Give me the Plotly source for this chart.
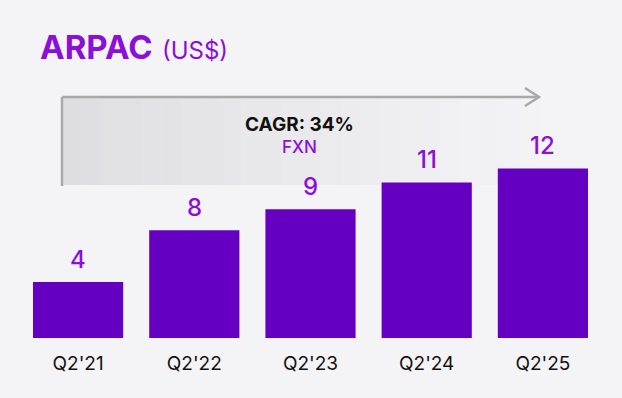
import plotly.graph_objects as go

categories = ["Q2'21", "Q2'22", "Q2'23", "Q2'24", "Q2'25"]
arpac_values = [4.0, 7.7, 9.2, 11.1, 12.1]
value_labels = ["4", "8", "9", "11", "12"]
cagr_text = "CAGR: 34%"
cagr_sub = "FXN"

W, H = 622, 398
ML, MR, MT, MB = 20, 21, 58, 60
PW, PH = W - ML - MR, H - MT - MB

def px(x):
    return (x - ML) / PW

def py(y):
    return (H - MB - y) / PH

PURPLE = "#8a10d8"
FONT = "Inter, Lato, DejaVu Sans, sans-serif"

fig = go.Figure()
fig.add_trace(go.Bar(
    x=categories, y=arpac_values,
    marker=dict(color="#6500c2", line=dict(width=0)),
    hoverinfo="skip",
))

annotations = []
for c, v, t in zip(categories, arpac_values, value_labels):
    annotations.append(dict(x=c, y=v, xref="x", yref="y", text=t, showarrow=False,
                            yanchor="middle", yshift=23,
                            font=dict(size=24, color=PURPLE, family=FONT, weight=500)))

shapes = []
x0, x1, yt, yb = 62, 540, 97, 185
n = 24
for i in range(n):
    a = 0.75 * (1 - i / n) ** 1.2
    sx0 = x0 + (x1 - x0) * i / n
    sx1 = x0 + (x1 - x0) * (i + 1) / n
    shapes.append(dict(type="rect", xref="paper", yref="paper",
                       x0=px(sx0), x1=px(sx1), y0=py(yb), y1=py(yt),
                       line=dict(width=0), fillcolor=f"rgba(215,215,218,{a:.3f})",
                       layer="below"))
LINE = dict(color="#a9a9a9", width=2.5)
shapes.append(dict(type="line", xref="paper", yref="paper",
                   x0=px(62), x1=px(538), y0=py(97), y1=py(97), line=LINE))
shapes.append(dict(type="line", xref="paper", yref="paper",
                   x0=px(62), x1=px(62), y0=py(97), y1=py(186), line=LINE))
shapes.append(dict(type="path", xref="paper", yref="paper",
                   path=f"M {px(525)},{py(88)} L {px(539)},{py(97)} L {px(525)},{py(106)}",
                   line=LINE))

annotations += [
    dict(text="<b>ARPAC</b> <span style='font-size:24px'>(US$)</span>",
         xref="paper", yref="paper", x=px(38), y=py(47), xanchor="left", yanchor="middle",
         showarrow=False, font=dict(size=33, color=PURPLE, family=FONT)),
    dict(text=f"<b>{cagr_text}</b>", xref="paper", yref="paper", x=px(299), y=py(124),
         xanchor="center", yanchor="middle", showarrow=False,
         font=dict(size=19, color="#111111", family=FONT)),
    dict(text=cagr_sub, xref="paper", yref="paper", x=px(299), y=py(147),
         xanchor="center", yanchor="middle", showarrow=False,
         font=dict(size=17, color=PURPLE, family=FONT, weight=500)),
]

fig.update_layout(
    width=W, height=H,
    margin=dict(l=ML, r=MR, t=MT, b=MB),
    paper_bgcolor="#f4f3f6", plot_bgcolor="rgba(0,0,0,0)",
    bargap=0.224, showlegend=False,
    shapes=shapes, annotations=annotations,
    xaxis=dict(showgrid=False, zeroline=False, showline=False,
               ticks="outside", ticklen=8, tickcolor="rgba(0,0,0,0)",
               tickfont=dict(size=19, color="#111111", family=FONT),
               range=[-0.5, 4.5]),
    yaxis=dict(visible=False, range=[0, PH / 14.0]),
)
fig.write_html("out.html", config={"displayModeBar": False},
               post_script="document.body.style.margin='0';document.body.style.background='#f4f3f6';")
